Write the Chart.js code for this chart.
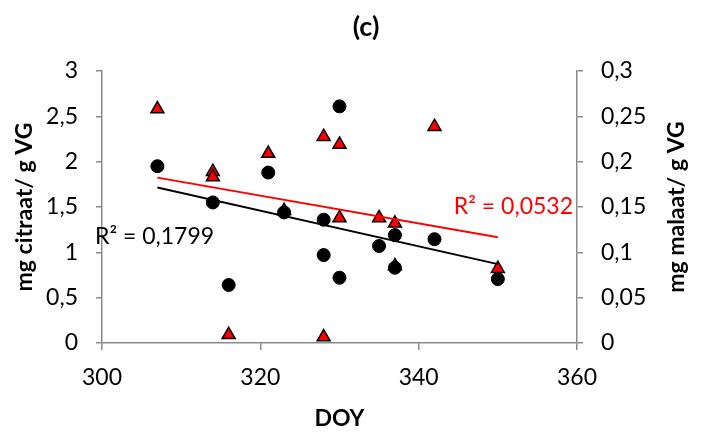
<!DOCTYPE html>
<html>
<head>
<meta charset="utf-8">
<script src="https://cdn.jsdelivr.net/npm/chart.js@4.4.1/dist/chart.umd.min.js"></script>
<style>
    body { margin: 0; background: #fff; }
    #wrap { width: 704px; height: 434px; }
</style>
</head>
<body>
<div id="wrap"><canvas id="chart" width="704" height="434"></canvas></div>
<script>
// ── Data ─────────────────────────────────────────────────────
const citraatDoy = [307, 314, 316, 321, 323, 328, 328, 330, 330, 335, 337, 337, 342, 350];
const citraatVal = [1.95, 1.55, 0.64, 1.88, 1.44, 1.36, 0.97, 2.61, 0.72, 1.07, 1.19, 0.83, 1.145, 0.705];

const malaatDoy = [307, 314, 314, 316, 321, 323, 328, 328, 330, 330, 335, 337, 337, 342, 350];
const malaatVal = [0.258, 0.189, 0.183, 0.009, 0.209, 0.146, 0.2275, 0.0066, 0.219, 0.138, 0.138, 0.132, 0.085, 0.2386, 0.082];

const trendDoy = [307, 350];
const trendCitraat = [1.714, 0.87];
const trendMalaat = [0.1824, 0.1167];

const r2Citraat = "R² = 0,1799";
const r2Malaat = "R² = 0,0532";

const FONT = "Lato";
const AXIS_GREY = "#8a8a8a";

function toPoints(xs, ys) {
    return xs.map((x, i) => ({ x, y: ys[i] }));
}

function komma(v) {
    return String(+v.toFixed(2)).replace(".", ",");
}

// ── Titel, rechter as-titel en R² labels ─────────────────────
const extraText = {
    id: "extraText",
    afterDraw(chart) {
        const ctx = chart.ctx;
        ctx.save();
        ctx.textBaseline = "middle";

        ctx.font = `bold 27px ${FONT}`;
        ctx.fillStyle = "#000";
        ctx.textAlign = "center";
        ctx.fillText("(c)", 366, 27);

        // rechter as-titel leest van onder naar boven, zoals links
        ctx.save();
        ctx.font = `bold 23px ${FONT}`;
        ctx.translate(677, (chart.chartArea.top + chart.chartArea.bottom) / 2);
        ctx.rotate(-Math.PI / 2);
        ctx.fillText("mg malaat/ g VG", 0, 0);
        ctx.restore();

        ctx.font = `23px ${FONT}`;
        ctx.textAlign = "left";
        ctx.fillStyle = "#000";
        ctx.fillText(r2Citraat, 95, 237);

        ctx.textAlign = "right";
        ctx.fillStyle = "#ff0000";
        ctx.fillText(r2Malaat, 573, 207);
        ctx.restore();
    }
};

const ctx = document.getElementById("chart").getContext("2d");

new Chart(ctx, {
    type: "scatter",
    data: {
        datasets: [
            {
                type: "line",
                data: toPoints(trendDoy, trendCitraat),
                yAxisID: "y",
                borderColor: "#000",
                borderWidth: 2,
                pointRadius: 0,
                fill: false
            },
            {
                type: "line",
                data: toPoints(trendDoy, trendMalaat),
                yAxisID: "y1",
                borderColor: "#ff0000",
                borderWidth: 2,
                pointRadius: 0,
                fill: false
            },
            {
                label: "citraat",
                data: toPoints(citraatDoy, citraatVal),
                yAxisID: "y",
                pointStyle: "circle",
                pointRadius: 6.5,
                backgroundColor: "#000",
                borderColor: "#000",
                borderWidth: 1
            },
            {
                label: "malaat",
                data: toPoints(malaatDoy, malaatVal),
                yAxisID: "y1",
                pointStyle: "triangle",
                pointRadius: 7.5,
                backgroundColor: "#ff0000",
                borderColor: "#000",
                borderWidth: 1.5
            }
        ]
    },
    options: {
        responsive: false,
        animation: false,
        devicePixelRatio: 1,
        layout: { padding: { top: 71, left: 0, right: 0, bottom: 0 } },
        plugins: {
            legend: { display: false },
            tooltip: { enabled: false },
            title: { display: false }
        },
        scales: {
            x: {
                type: "linear",
                min: 300,
                max: 360,
                ticks: { stepSize: 20, color: "#000", padding: 14, font: { family: FONT, size: 23 } },
                grid: { drawOnChartArea: false, tickLength: 7, color: AXIS_GREY, lineWidth: 1.5 },
                border: { color: AXIS_GREY, width: 1.5 },
                title: { display: true, text: "DOY", color: "#000", padding: { top: 0, bottom: 2 }, font: { family: FONT, size: 23, weight: "bold" } },
                afterFit(scale) { scale.height = 91; }
            },
            y: {
                position: "left",
                min: 0,
                max: 3,
                ticks: { stepSize: 0.5, color: "#000", padding: 18, callback: komma, font: { family: FONT, size: 23 } },
                grid: { drawOnChartArea: false, tickLength: 6, color: AXIS_GREY, lineWidth: 1.5 },
                border: { color: AXIS_GREY, width: 1.5 },
                title: { display: true, text: "mg citraat/ g VG", color: "#000", padding: { top: 11, bottom: 0 }, font: { family: FONT, size: 23, weight: "bold" } },
                afterFit(scale) { scale.width = 102; }
            },
            y1: {
                position: "right",
                min: 0,
                max: 0.3,
                ticks: { stepSize: 0.05, color: "#000", padding: 18, callback: komma, font: { family: FONT, size: 23 } },
                grid: { drawOnChartArea: false, tickLength: 6, color: AXIS_GREY, lineWidth: 1.5 },
                border: { color: AXIS_GREY, width: 1.5 },
                title: { display: false },
                afterFit(scale) { scale.width = 127; }
            }
        }
    },
    plugins: [extraText]
});
</script>
</body>
</html>
